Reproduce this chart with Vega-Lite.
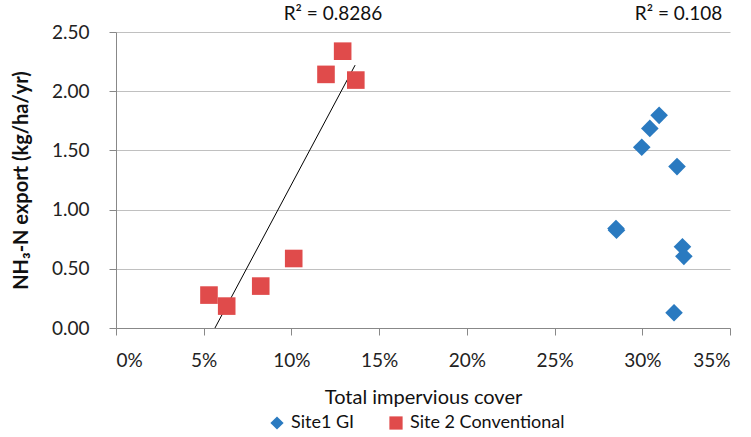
{
  "$schema": "https://vega.github.io/schema/vega-lite/v6.json",
  "width": 614,
  "height": 296,
  "autosize": {"type": "none"},
  "padding": {"left": 116, "top": 32, "right": 21, "bottom": 109},
  "background": "white",
  "config": {
    "font": "Lato",
    "view": {"stroke": null},
    "axis": {"labelColor": "#222222", "titleColor": "#111111", "labelFontSize": 19, "titleFontSize": 20, "domainColor": "#888888", "tickColor": "#888888", "tickSize": 7}
  },
  "datasets": {
    "points": [
      {"x": 0.1292, "y": 2.338, "site": "Site 2 Conventional"},
      {"x": 0.1197, "y": 2.142, "site": "Site 2 Conventional"},
      {"x": 0.1367, "y": 2.094, "site": "Site 2 Conventional"},
      {"x": 0.1013, "y": 0.587, "site": "Site 2 Conventional"},
      {"x": 0.0825, "y": 0.354, "site": "Site 2 Conventional"},
      {"x": 0.0530, "y": 0.278, "site": "Site 2 Conventional"},
      {"x": 0.0631, "y": 0.185, "site": "Site 2 Conventional"},
      {"x": 0.3096, "y": 1.796, "site": "Site1 GI"},
      {"x": 0.3043, "y": 1.686, "site": "Site1 GI"},
      {"x": 0.2997, "y": 1.526, "site": "Site1 GI"},
      {"x": 0.3198, "y": 1.363, "site": "Site1 GI"},
      {"x": 0.2850, "y": 0.840, "site": "Site1 GI"},
      {"x": 0.2853, "y": 0.826, "site": "Site1 GI"},
      {"x": 0.3229, "y": 0.686, "site": "Site1 GI"},
      {"x": 0.3237, "y": 0.605, "site": "Site1 GI"},
      {"x": 0.3181, "y": 0.129, "site": "Site1 GI"}
    ],
    "trend": [
      {"x": 0.0564, "y": 0.0},
      {"x": 0.1363, "y": 2.22}
    ],
    "labels": [
      {"x": 0.1237, "y": 2.652, "label": "R² = 0.8286"},
      {"x": 0.3207, "y": 2.652, "label": "R² = 0.108"}
    ]
  },
  "layer": [
    {
      "data": {"name": "trend"},
      "mark": {"type": "line", "color": "#000000", "strokeWidth": 1},
      "encoding": {
        "x": {"field": "x", "type": "quantitative", "scale": {"domain": [0, 0.35], "nice": false},
          "axis": {"values": [0, 0.05, 0.1, 0.15, 0.2, 0.25, 0.3, 0.35], "format": ".0%", "grid": false, "labelPadding": 16, "title": "Total impervious cover", "titleFontWeight": "normal", "titlePadding": 17}},
        "y": {"field": "y", "type": "quantitative", "scale": {"domain": [0, 2.5], "nice": false},
          "axis": {"values": [0, 0.5, 1, 1.5, 2, 2.5], "format": ".2f", "grid": true, "gridColor": "#c0c0c0", "labelPadding": 20, "title": "NH₃-N export (kg/ha/yr)", "titleFontWeight": "bold", "titlePadding": 20}}
      }
    },
    {
      "data": {"name": "points"},
      "mark": {"type": "point", "filled": true, "opacity": 1, "size": 310},
      "encoding": {
        "x": {"field": "x", "type": "quantitative"},
        "y": {"field": "y", "type": "quantitative"},
        "shape": {"field": "site", "type": "nominal", "scale": {"domain": ["Site1 GI", "Site 2 Conventional"], "range": ["diamond", "square"]}},
        "color": {"field": "site", "type": "nominal", "scale": {"domain": ["Site1 GI", "Site 2 Conventional"], "range": ["#2a7ac0", "#e04b4b"]},
          "legend": {"orient": "none", "legendX": 152, "legendY": 382, "direction": "horizontal", "title": null, "padding": 0, "labelFontSize": 18, "labelLimit": 300, "labelColor": "#111111", "labelOffset": 5, "symbolSize": 175, "columnPadding": 32}}
      }
    },
    {
      "data": {"name": "labels"},
      "mark": {"type": "text", "fontSize": 19, "color": "#111111", "clip": false},
      "encoding": {
        "x": {"field": "x", "type": "quantitative"},
        "y": {"field": "y", "type": "quantitative"},
        "text": {"field": "label", "type": "nominal"}
      }
    }
  ]
}
